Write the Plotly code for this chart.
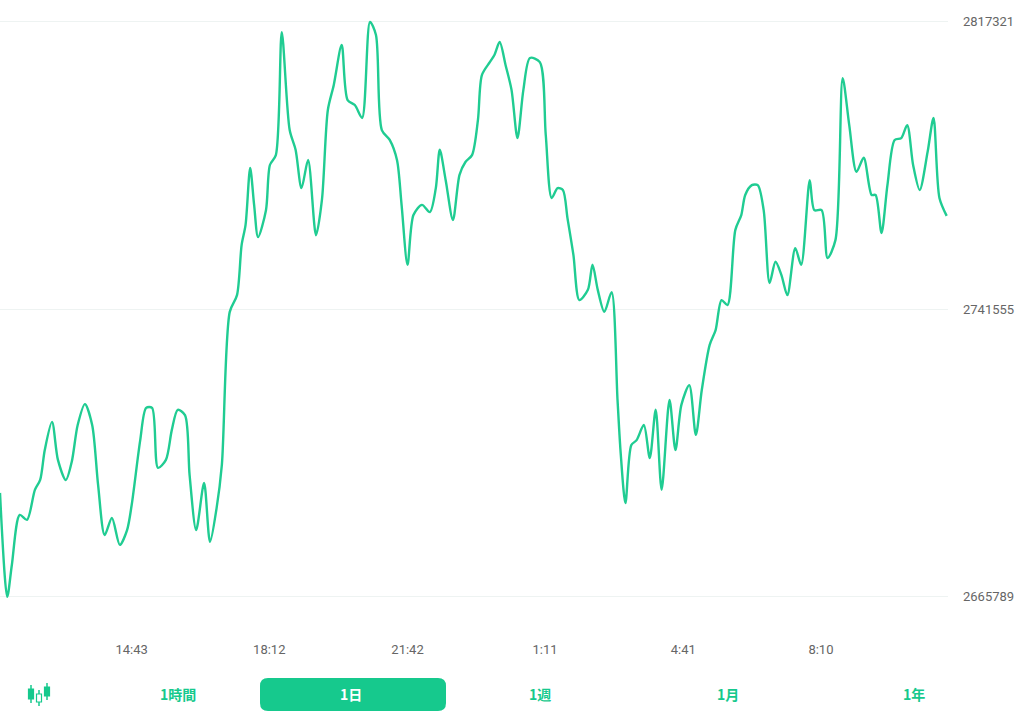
import plotly.graph_objects as go

# minutes since 11:23 and price (thousands)
minutes = [0, 11, 18, 30, 41, 53, 61, 68, 79, 88, 100, 109, 118, 129, 140, 149, 159, 170, 182, 193,
           200, 213, 222, 231, 240, 252, 261, 270, 281, 288, 298, 310, 319, 329, 337, 349, 360, 367, 373, 380,
           386, 392, 404, 410, 419, 428, 440, 449, 458, 468, 480, 489, 498, 507, 519, 528, 539, 550, 562, 571,
           580, 592, 603, 610, 619, 628, 641, 653, 662, 668, 677, 688, 698, 707, 717, 726, 732, 744, 751, 759,
           768, 777, 786, 795, 805, 820, 829, 838, 847, 855, 862, 871, 880, 893, 900, 908, 918, 929, 938, 943,
           950, 959, 967, 978, 987, 996, 1005, 1017, 1026, 1035, 1047, 1057, 1066, 1078, 1087, 1096, 1105, 1117, 1126, 1132,
           1142, 1151, 1160, 1169, 1178, 1187, 1196, 1208, 1217, 1230, 1237, 1248, 1257, 1269, 1280, 1290, 1301, 1312, 1324, 1330,
           1339, 1348, 1359, 1369, 1378, 1387, 1397, 1409, 1418, 1427, 1438]
price_k = [2693.1, 2665.7, 2674.1, 2687.3, 2686.0, 2693.9, 2696.5, 2704.4, 2711.8, 2701.8, 2696.5, 2701.3, 2711.0, 2716.5, 2711.0, 2695.2, 2682.0, 2686.5, 2679.4, 2683.3,
           2689.9, 2707.0, 2715.5, 2715.5, 2699.7, 2701.8, 2709.7, 2715.0, 2713.6, 2697.8, 2683.3, 2695.7, 2680.2, 2689.1, 2700.5, 2740.8, 2745.2, 2758.4, 2763.7, 2778.7,
           2769.0, 2760.5, 2767.6, 2779.5, 2782.1, 2814.5, 2788.7, 2783.5, 2773.4, 2780.8, 2761.0, 2770.3, 2794.0, 2800.6, 2811.1, 2796.6, 2795.3, 2791.9, 2817.2, 2813.8,
           2788.7, 2786.1, 2780.8, 2769.0, 2753.2, 2766.3, 2769.0, 2767.1, 2773.4, 2783.5, 2775.5, 2765.0, 2776.9, 2780.3, 2782.1, 2791.4, 2803.2, 2806.6, 2808.5, 2811.9,
           2805.8, 2799.3, 2786.6, 2799.3, 2807.7, 2806.6, 2787.4, 2770.8, 2773.4, 2772.9, 2765.5, 2755.8, 2743.9, 2746.6, 2753.2, 2746.6, 2740.8, 2746.0, 2717.6, 2703.1,
           2690.4, 2705.7, 2707.0, 2711.0, 2702.3, 2715.0, 2693.9, 2717.6, 2704.4, 2716.3, 2721.5, 2708.4, 2720.2, 2732.1, 2736.0, 2743.9, 2742.6, 2762.4, 2766.3, 2771.6,
           2774.2, 2774.2, 2767.6, 2748.4, 2754.0, 2750.5, 2745.2, 2757.6, 2753.2, 2775.5, 2767.6, 2767.6, 2755.0, 2759.7, 2802.4, 2790.0, 2777.7, 2781.4, 2771.6, 2771.6,
           2761.6, 2774.2, 2786.1, 2786.6, 2790.0, 2779.5, 2772.9, 2782.9, 2791.9, 2770.8, 2766.1]
price = [p * 1000 for p in price_k]

y_ticks = [2665789, 2741555, 2817321]
x_tickvals = [200, 409, 619, 828, 1038, 1247]
x_ticktext = ['14:43', '18:12', '21:42', '1:11', '4:41', '8:10']
buttons = ['1時間', '1日', '1週', '1月', '1年']
button_x = [178, 351, 540, 728, 914]

GREEN = '#16c98d'
W, H = 1024, 713
ML, MR, MT, MB = 0, 76, 5, 95
PW, PH = W - ML - MR, H - MT - MB


def px(x):
    return (x - ML) / PW


def py(y):
    return (H - MB - y) / PH


fig = go.Figure(go.Scatter(x=minutes, y=price, mode='lines',
                           line=dict(color='#20cc92', width=2.4, shape='spline', smoothing=0.8),
                           hoverinfo='skip'))

shapes = []
# selected button (rounded)
x0, x1, y0, y1, r = 260, 446, 678, 711, 8
path = (f"M {px(x0 + r)} {py(y0)} L {px(x1 - r)} {py(y0)} Q {px(x1)} {py(y0)} {px(x1)} {py(y0 + r)} "
        f"L {px(x1)} {py(y1 - r)} Q {px(x1)} {py(y1)} {px(x1 - r)} {py(y1)} "
        f"L {px(x0 + r)} {py(y1)} Q {px(x0)} {py(y1)} {px(x0)} {py(y1 - r)} "
        f"L {px(x0)} {py(y0 + r)} Q {px(x0)} {py(y0)} {px(x0 + r)} {py(y0)} Z")
shapes.append(dict(type='path', xref='paper', yref='paper', path=path,
                   fillcolor=GREEN, line=dict(width=0), layer='above'))
# candlestick icon
for cx, top, bot, btop, bbot, filled in [(31, 685, 703, 689, 699, True), (39, 690, 706, 694, 702, False),
                                         (47, 683, 700, 687, 696, True)]:
    shapes.append(dict(type='line', xref='paper', yref='paper', x0=px(cx), x1=px(cx), y0=py(top), y1=py(bot),
                       line=dict(color=GREEN, width=1.5)))
    shapes.append(dict(type='rect', xref='paper', yref='paper', x0=px(cx - 2.5), x1=px(cx + 2.5),
                       y0=py(btop), y1=py(bbot), fillcolor=GREEN if filled else 'white',
                       line=dict(color=GREEN, width=1.2)))

annotations = []
for label, bx in zip(buttons, button_x):
    annotations.append(dict(x=px(bx), y=py(694), xref='paper', yref='paper', text=label, showarrow=False,
                            font=dict(size=14, color='white' if label == '1日' else GREEN,
                                      family='Noto Sans CJK JP', weight=600),
                            xanchor='center', yanchor='middle'))

fig.update_layout(
    width=W, height=H, margin=dict(l=ML, r=MR, t=MT, b=MB),
    plot_bgcolor='white', paper_bgcolor='white', showlegend=False,
    font=dict(family='Roboto', color='#666'),
    xaxis=dict(range=[0, 1440], tickvals=x_tickvals, ticktext=x_ticktext, showgrid=False,
               zeroline=False, showline=False, ticks='', ticklabelstandoff=22,
               tickfont=dict(size=13, color='#666')),
    yaxis=dict(range=[2660133, 2821659], tickvals=y_ticks, side='right', showgrid=True,
               gridcolor='#eef3f2', gridwidth=1, zeroline=False, showline=False, ticks='',
               tickformat='d', ticklabelstandoff=14, tickfont=dict(size=13, color='#666')),
    shapes=shapes, annotations=annotations,
)

fig.write_html('out.html', config={'displayModeBar': False},
               post_script="document.body.style.margin='0';")
